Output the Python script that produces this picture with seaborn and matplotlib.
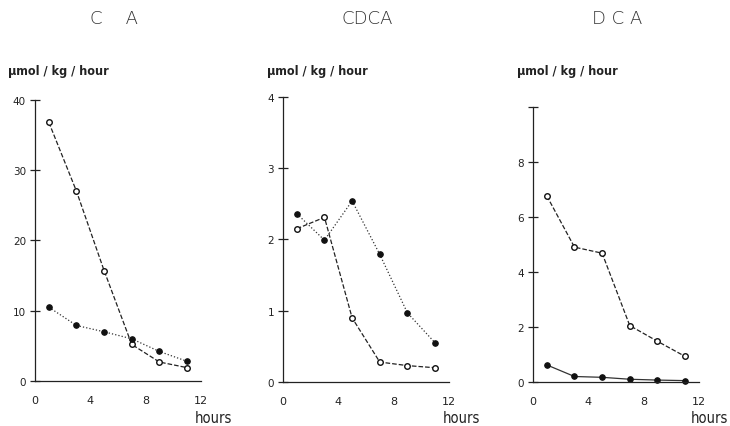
import numpy as np
import pandas as pd
import seaborn as sns
from matplotlib import pyplot as plt

sns.set_style('white')
plt.rcParams['font.family'] = ['DejaVu Sans']

hours = [1, 3, 5, 7, 9, 11]

# CA panel
ca_open = [36.8, 27.0, 15.7, 5.2, 2.7, 1.9]
ca_filled = [10.5, 7.9, 7.0, 6.0, 4.2, 2.8]

# CDCA panel
cdca_open = [2.15, 2.31, 0.90, 0.28, 0.23, 0.20]
cdca_filled = [2.36, 1.99, 2.54, 1.79, 0.97, 0.55]

# DCA panel
dca_open = [6.76, 4.90, 4.68, 2.05, 1.48, 0.93]
dca_filled = [0.62, 0.20, 0.17, 0.10, 0.07, 0.05]

titles = ['C    A', 'CDCA', 'D C A']
ylims = [40, 4, 10]
yticks = [[0, 10, 20, 30, 40], [0, 1, 2, 3, 4], [0, 2, 4, 6, 8, 10]]
ylabels = [['0', '10', '20', '30', '40'], ['0', '1', '2', '3', '4'],
           ['0', '2', '4', '6', '8', ' ']]
open_sets = [ca_open, cdca_open, dca_open]
filled_sets = [ca_filled, cdca_filled, dca_filled]
filled_styles = [':', ':', '-']

fig = plt.figure(figsize=(7.3, 4.27), dpi=100)
lefts = [35, 283, 533]
bottoms = [382, 383, 383]
tops = [98, 95, 105]

for i in range(3):
    left = lefts[i] / 730
    bottom = (427 - bottoms[i]) / 427
    height = (bottoms[i] - tops[i]) / 427
    ax = fig.add_axes([left, bottom, 170 / 730, height])
    df = pd.DataFrame({'hours': hours, 'open': open_sets[i], 'filled': filled_sets[i]})

    sns.lineplot(data=df, x='hours', y='open', ax=ax, color='#222222',
                 linestyle='--', linewidth=0.9, marker='o', markersize=4,
                 markerfacecolor='white', markeredgecolor='#111111',
                 markeredgewidth=1.0, clip_on=False)
    sns.lineplot(data=df, x='hours', y='filled', ax=ax, color='#333333',
                 linestyle=filled_styles[i], linewidth=0.9, marker='o',
                 markersize=4, markerfacecolor='#111111',
                 markeredgecolor='#111111', clip_on=False)

    ax.set_xlim(0, 12.3)
    ax.set_ylim(0, ylims[i] * 1.01)
    ax.set_xticks([0, 4, 8, 12])
    ax.set_xticks([2, 6, 10], minor=True)
    ax.set_yticks(yticks[i])
    ax.set_yticklabels(ylabels[i])
    ax.set_xlabel('')
    ax.set_ylabel('')
    sns.despine(ax=ax)
    ax.spines['left'].set_bounds(0, ylims[i])
    ax.spines['bottom'].set_bounds(0, 12)
    for s in ['left', 'bottom']:
        ax.spines[s].set_color('#222222')
        ax.spines[s].set_linewidth(0.9)
    ax.tick_params(axis='x', which='both', direction='in', length=4,
                   width=0.8, labelsize=8, pad=10, colors='#222222')
    ax.tick_params(axis='y', which='both', direction='inout', length=7,
                   width=0.9, labelsize=7.5, pad=3, colors='#222222',
                   left=True)
    ax.patch.set_alpha(0)

title_x = [114, 367, 617]
ylab_x = [8, 267, 517]
hours_x = [232, 480, 728]
for i in range(3):
    fig.text(title_x[i] / 730, 1 - 19 / 427, titles[i], ha='center',
             va='center', fontsize=13, fontweight='light', color='#333333')
    fig.text(ylab_x[i] / 730, 1 - 72 / 427, 'µmol / kg / hour', ha='left',
             va='center', fontsize=9, fontweight='bold',
             fontstretch='condensed', color='#222222')
    fig.text(hours_x[i] / 730, 1 - 419 / 427, 'hours', ha='right',
             va='center', fontsize=10.5, fontstretch='condensed',
             color='#222222')

fig.savefig('out.png', dpi=100)
